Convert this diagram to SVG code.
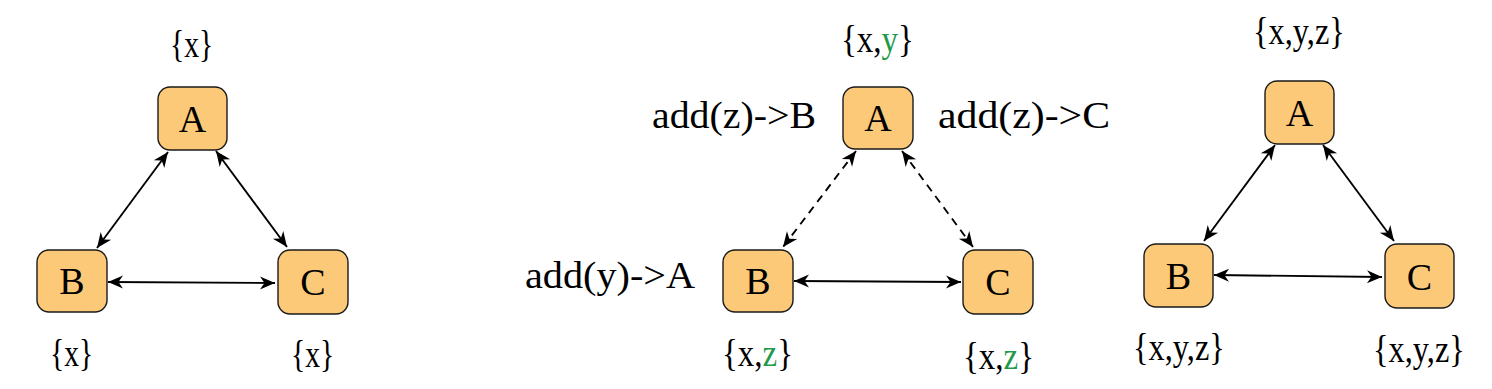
<svg xmlns="http://www.w3.org/2000/svg" width="1492" height="389" viewBox="0 0 1492 389">
<style>
.box{fill:#FCC978;stroke:#1a1a1a;stroke-width:1.4}
.t{font-family:"Liberation Serif","DejaVu Serif",serif;font-size:38px;fill:#000}
.n{text-anchor:middle}
.g{fill:#1f9a48}
.e{fill:none;stroke:#000;stroke-width:1.9}
.d{stroke-dasharray:8 6}
</style>
<defs>
<marker id="ah" viewBox="-16 -8 17 16" refX="0" refY="0" markerWidth="17" markerHeight="16" markerUnits="userSpaceOnUse" orient="auto-start-reverse">
<path d="M0,0 L-15,-6.5 L-10.5,0 L-15,6.5 Z" fill="#000"/>
</marker>
</defs>
<rect width="1492" height="389" fill="#fff"/>
<g id="connectors">
<line class="e" x1="168" y1="152" x2="97" y2="248" marker-start="url(#ah)" marker-end="url(#ah)"/>
<line class="e" x1="216" y1="151" x2="287" y2="247" marker-start="url(#ah)" marker-end="url(#ah)"/>
<line class="e" x1="108" y1="282" x2="275" y2="283" marker-start="url(#ah)" marker-end="url(#ah)"/>
<line class="e d" x1="856" y1="151" x2="783" y2="247" marker-start="url(#ah)" marker-end="url(#ah)"/>
<line class="e d" x1="902" y1="151" x2="973" y2="247" marker-start="url(#ah)" marker-end="url(#ah)"/>
<line class="e" x1="794" y1="281" x2="961" y2="282" marker-start="url(#ah)" marker-end="url(#ah)"/>
<line class="e" x1="1275" y1="145" x2="1204" y2="241" marker-start="url(#ah)" marker-end="url(#ah)"/>
<line class="e" x1="1323" y1="145" x2="1394" y2="241" marker-start="url(#ah)" marker-end="url(#ah)"/>
<line class="e" x1="1214" y1="275" x2="1382" y2="277" marker-start="url(#ah)" marker-end="url(#ah)"/>
</g>
<g id="p1A"><rect class="box" x="158" y="87" width="69" height="63" rx="12"/><text class="t n" x="192.5" y="132">A</text></g>
<g id="p1B"><rect class="box" x="37" y="250" width="70" height="62" rx="12"/><text class="t n" x="72" y="294">B</text></g>
<g id="p1C"><rect class="box" x="278" y="250" width="70" height="64" rx="12"/><text class="t n" x="313" y="295">C</text></g>
<g id="p2A"><rect class="box" x="843" y="87" width="70" height="62" rx="12"/><text class="t n" x="878" y="131">A</text></g>
<g id="p2B"><rect class="box" x="723" y="250" width="70" height="62" rx="12"/><text class="t n" x="758" y="294">B</text></g>
<g id="p2C"><rect class="box" x="963" y="250" width="70" height="64" rx="12"/><text class="t n" x="998" y="295">C</text></g>
<g id="p3A"><rect class="box" x="1265" y="81" width="69" height="63" rx="12"/><text class="t n" x="1299.5" y="126">A</text></g>
<g id="p3B"><rect class="box" x="1144" y="244" width="69" height="63" rx="12"/><text class="t n" x="1178.5" y="289">B</text></g>
<g id="p3C"><rect class="box" x="1385" y="244" width="69" height="64" rx="12"/><text class="t n" x="1419.5" y="290">C</text></g>
<g id="labels">
<text class="t" transform="translate(170,57) scale(0.78,1)">{x}</text>
<text class="t" transform="translate(50,366) scale(0.78,1)">{x}</text>
<text class="t" transform="translate(291,367) scale(0.78,1)">{x}</text>
<text class="t" transform="translate(841,52) scale(0.869,1)">{x,<tspan class="g">y</tspan>}</text>
<text class="t" x="652" y="128" textLength="164" lengthAdjust="spacingAndGlyphs">add(z)-&gt;B</text>
<text class="t" x="938" y="128" textLength="172" lengthAdjust="spacingAndGlyphs">add(z)-&gt;C</text>
<text class="t" x="525" y="288" textLength="170" lengthAdjust="spacingAndGlyphs">add(y)-&gt;A</text>
<text class="t" transform="translate(722,366) scale(0.867,1)">{x,<tspan class="g">z</tspan>}</text>
<text class="t" transform="translate(963,369) scale(0.867,1)">{x,<tspan class="g">z</tspan>}</text>
<text class="t" transform="translate(1253,44) scale(0.851,1)">{x,y,z}</text>
<text class="t" transform="translate(1133,360) scale(0.851,1)">{x,y,z}</text>
<text class="t" transform="translate(1373,362) scale(0.851,1)">{x,y,z}</text>
</g>
</svg>
